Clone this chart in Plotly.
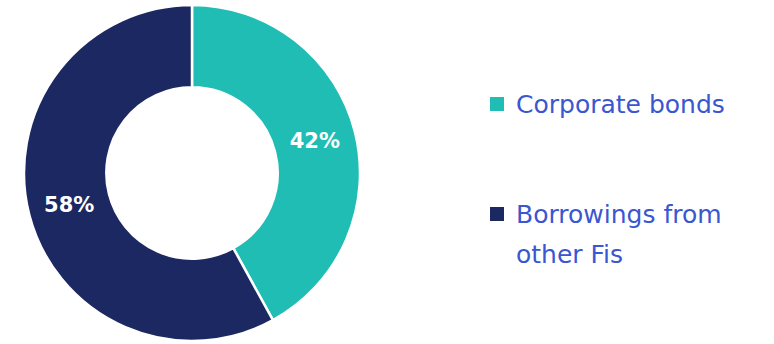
import plotly.graph_objects as go

# Funding mix shares
labels = ["Corporate bonds", "Borrowings from other Fis"]
values = [42, 58]
colors = ["#20BDB5", "#1B2862"]
# Legend text split into display lines
legend_lines = [["Corporate bonds"], ["Borrowings from", "other Fis"]]

W, H = 774, 344

fig = go.Figure(
    go.Pie(
        labels=labels,
        values=values,
        hole=0.51,
        sort=False,
        direction="clockwise",
        rotation=0,
        marker=dict(colors=colors, line=dict(color="white", width=2.5)),
        textinfo="percent",
        texttemplate="<b>%{percent:.0%}</b>",
        textposition="inside",
        insidetextorientation="horizontal",
        textfont=dict(family="DejaVu Sans, sans-serif", size=21, color="white"),
        domain=dict(x=[24 / W, 360 / W], y=[3 / H, 339 / H]),
        showlegend=False,
    )
)

# Custom legend: colored squares with text lines
legend_font = dict(family="DejaVu Sans, sans-serif", size=25, color="#3A56D0")
item_tops = [104, 214]
line_gap = 40
for color, lines, yc in zip(colors, legend_lines, item_tops):
    fig.add_shape(
        type="rect", xref="paper", yref="paper",
        x0=490 / W, x1=504 / W,
        y0=1 - (yc + 7) / H, y1=1 - (yc - 7) / H,
        fillcolor=color, line=dict(width=0),
    )
    for i, line in enumerate(lines):
        fig.add_annotation(
            x=514 / W, y=1 - (yc + i * line_gap) / H,
            xref="paper", yref="paper",
            xanchor="left", yanchor="middle",
            text=line, showarrow=False, font=legend_font,
        )

fig.update_layout(
    width=W, height=H,
    margin=dict(l=0, r=0, t=0, b=0),
    paper_bgcolor="white",
    plot_bgcolor="white",
)

fig.write_html("out.html")
